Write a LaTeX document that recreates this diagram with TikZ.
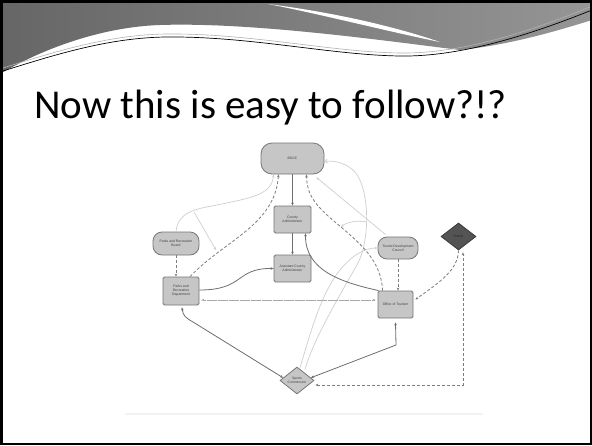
\documentclass[tikz,border=0pt]{standalone}
\usepackage{fontspec}
\setmainfont{Liberation Sans}
\newfontfamily\titlefont{Carlito}
\usetikzlibrary{shapes.geometric,arrows.meta,calc}

\definecolor{nfill}{HTML}{C6C6C6}
\definecolor{ndraw}{HTML}{767676}
\definecolor{edark}{HTML}{6E6E6E}
\definecolor{elight}{HTML}{CFCFCF}
\definecolor{hfill}{HTML}{545454}
\definecolor{hdark}{HTML}{666666}
\definecolor{hlight}{HTML}{959595}

\begin{document}
\begin{tikzpicture}[x=1pt,y=-1pt,
  lbl/.style={font=\fontsize{3.4}{4}\selectfont, text=black!75, align=center},
  boxnode/.style={lbl, draw=ndraw, fill=nfill, line width=0.8pt, rounded corners=1.5pt, inner sep=0pt},
  pill/.style={boxnode, rounded corners=#1},
  dia/.style={diamond, draw=ndraw, fill=nfill, line width=0.8pt, inner sep=0pt},
  tip/.style={-{Stealth[length=3pt,width=2.6pt]}},
  opentip/.style={-{Straight Barb[length=2.5pt,width=4pt]}},
  both/.style={{Stealth[length=3pt,width=2.6pt]}-{Stealth[length=3pt,width=2.6pt]}},
  solidedge/.style={draw=edark, line width=0.8pt},
  dashedge/.style={draw=edark!90, line width=0.8pt, dash pattern=on 3pt off 2pt},
  lightedge/.style={draw=elight, line width=0.7pt},
  dotedge/.style={draw=edark!60, line width=0.6pt, dash pattern=on 0.4pt off 0.7pt},
]
\useasboundingbox (0,0) rectangle (592,445);
\fill[white] (0,0) rectangle (592,445);

% header
\shade[left color=hdark, right color=hlight]
  (0,0) -- (592,0) -- (592,20)
  .. controls (560,30) and (510,45) .. (460,50)
  .. controls (380,40) and (250,22) .. (160,25)
  .. controls (100,27) and (40,50) .. (0,74) -- cycle;
\fill[white] (268,4) .. controls (330,12) and (390,25) .. (440,42)
  .. controls (390,32) and (320,14) .. (268,4) -- cycle;
\draw[gray!60, line width=0.6pt] (3,68) .. controls (60,50) and (110,35) .. (165,34)
  .. controls (250,33) and (330,52) .. (400,53) .. controls (460,54) and (530,32) .. (592,6);
\draw[black, line width=0.7pt] (3,71) .. controls (60,53) and (110,38) .. (165,37)
  .. controls (250,36) and (330,55) .. (400,56) .. controls (460,57) and (530,35) .. (592,10);

% title
\node[anchor=base west, font=\titlefont\fontsize{41}{48}\selectfont, inner sep=0pt] (title) at (34,118.5) {Now this is easy to follow?!?};

% faint base line of the picture
\draw[black!5, line width=2pt] (125,414) -- (483,414);

% nodes
\node[pill=11pt, minimum width=63pt, minimum height=31pt] (bocc) at (292.5,158.5) {BOCC};
\node[boxnode, minimum width=37pt, minimum height=27pt] (ca) at (292.5,219.5) {County\\Administrator};
\node[boxnode, minimum width=37pt, minimum height=27pt] (aca) at (292.5,268.5) {Assistant County\\Administrator};
\node[pill=9pt, minimum width=46pt, minimum height=23pt] (prb) at (176,243.5) {Parks and Recreation\\Board};
\node[boxnode, minimum width=36pt, minimum height=28pt] (prd) at (181,291) {Parks and\\Recreation\\Department};
\node[pill=9pt, minimum width=40pt, minimum height=22pt] (tdc) at (398,248) {Tourist Development\\Council};
\node[boxnode, minimum width=35pt, minimum height=27pt] (oot) at (395.5,304.5) {Office of Tourism};
\node[dia, fill=hfill, draw=hfill!70!black, minimum width=35pt, minimum height=27pt,
  label={[lbl,text=black!85]center:Hotels}] (hot) at (458.5,236.5) {};
\node[dia, minimum width=34pt, minimum height=27pt,
  label={[lbl]center:{Sports\\Commission}}] (sc) at (297,380.5) {};

% helper coordinates
\coordinate (a1) at (194,212);
\coordinate (a2) at (216,250);
\coordinate (b1) at (367,222);
\coordinate (b2) at (341,227);
\coordinate (k1) at (396,345);
\coordinate (k2) at (193,322);
\coordinate (loop1) at (358,263);
\coordinate (loop2) at (355,172);
\coordinate (mid1) at (217,205);
\coordinate (mid2) at (335,222);
\coordinate (mid3) at (340,270);

% light connectors
\draw[lightedge,tip] (prb.north) .. controls (178,212) and (195,209) .. (mid1)
  .. controls (250,198) and (272,195) .. ($(bocc.south)+(-19,0)$);
\draw[lightedge,tip] (a1) -- (a2);
\draw[lightedge,tip] ($(tdc.north west)+(8,-2)$) -- ($(bocc.south east)+(-8,3)$);
\draw[lightedge,opentip] ($(sc.north)+(8,3)$) .. controls (313,340) and (340,295) .. (loop1)
  .. controls (370,240) and (370,190) .. (loop2)
  .. controls (348,164) and (335,160) .. ($(bocc.east)+(0,3)$);
\draw[lightedge,tip] (b1) .. controls (357,220) and (347,222) .. (b2);
\draw[lightedge,tip] ($(sc.north)+(3,1)$) .. controls (310,335) and (320,295) .. (mid3)
  .. controls (352,255) and (365,248) .. (tdc.west);

% dark solid connectors
\draw[solidedge,tip] (bocc) -- (ca);
\draw[solidedge,tip] (ca) -- (aca);
\draw[solidedge,tip] ($(prd.east)+(0,-1)$) .. controls (245,290) and (235,268) .. (aca.west);
\draw[solidedge,tip] ($(oot.north west)+(1,0)$) .. controls (340,282) and (305,270) .. ($(ca.south)+(13,0)$);
\draw[solidedge,both] ($(prd.south)+(1,2)$) .. controls (183,316) and (186,318) .. (k2)
  -- ($(sc.west)!0.2!(sc.north)$);
\draw[solidedge,both] ($(sc.east)!0.2!(sc.north)$) -- (k1) -- ($(oot.south)+(0,4)$);

% dashed connectors
\draw[dashedge,tip] (prb.south) -- (prb.south |- prd.north);
\draw[dashedge,tip] ($(prd.north)+(9,0)$) .. controls (225,240) and (275,225) .. ($(bocc.south)+(-14,0)$);
\draw[dashedge,tip] ($(oot.north west)+(5,0)$) .. controls (381,260) and (360,243) .. (mid2)
  .. controls (315,205) and (307,195) .. ($(bocc.south)+(14,0)$);
\draw[dashedge,tip] (tdc.south) -- (tdc.south |- oot.north);
\draw[dashedge,tip] (hot.south) .. controls (458,270) and (440,282) .. ($(oot.east)+(2,-5)$);
\draw[dashedge,both] ($(sc.east)+(1,4.5)$) -| ($(hot.south)+(4.5,2)$);

% dotted connector
\draw[dotedge,both] ($(prd.east)+(2,9)$) -- ($(oot.west)+(-2,-4.5)$);

% slide frame
\draw[black, line width=2.5pt] (1.25,1.25) rectangle (590.75,443.75);
\end{tikzpicture}
\end{document}
